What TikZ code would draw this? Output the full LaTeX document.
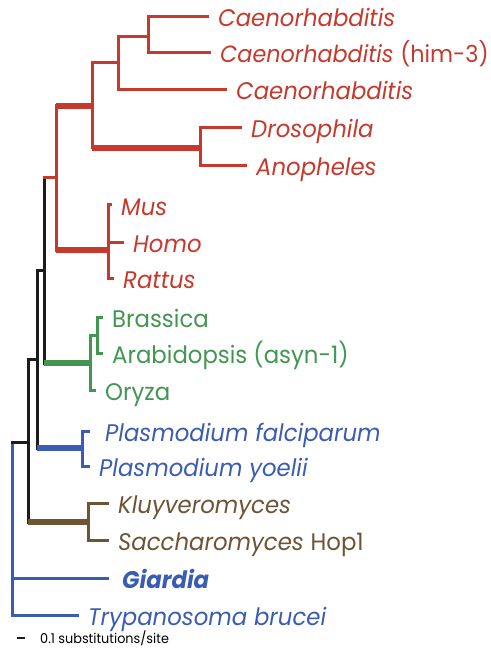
\documentclass[tikz,border=0pt]{standalone}
\usepackage{fontspec}
\usepackage{xcolor}
\usepackage{tikz}
\usetikzlibrary{positioning}
\setmainfont{Poppins}[FakeStretch=0.95]

\definecolor{cladered}{RGB}{198,58,46}
\definecolor{cladegreen}{RGB}{66,150,82}
\definecolor{cladeblue}{RGB}{58,92,180}
\definecolor{cladebrown}{RGB}{108,84,52}
\definecolor{trunkblack}{RGB}{28,28,28}

\newcommand{\leaffont}{\fontsize{24}{28}\selectfont}

\begin{document}
\begin{tikzpicture}[x=1pt, y=-1pt,
    branch/.style={line width=3pt, line cap=rect},
    heavy/.style={line width=6.5pt},
    leaf/.style={anchor=west, inner xsep=11pt, inner ysep=0pt,
        text height=22pt, text depth=2pt, font=\leaffont\itshape}]
    \useasboundingbox (0,0) rectangle (490,652);

    % --- internal nodes ---
    \coordinate (root)    at (12,529);
    \coordinate (inner28) at (28,442);
    \coordinate (inner37) at (37,359);
    \coordinate (inner44) at (44,270);
    \coordinate (metazoa) at (56,178);
    \coordinate (r92)     at (92,106);
    \coordinate (r118)    at (118,63);
    \coordinate (r148)    at (148,37);
    \coordinate (insect)  at (200,148);
    \coordinate (mammal)  at (108,250);
    \coordinate (plant)   at (90,363);
    \coordinate (brass)   at (97,335);
    \coordinate (plasmo)  at (82,448);
    \coordinate (yeast)   at (88,522);

    % --- leaves ---
    \node[leaf, text=cladered] (caenA)  at (207,17)  {Caenorhabditis};
    \node[leaf, text=cladered, inner xsep=0pt, font=\fontsize{23.5}{28}\selectfont\itshape] (caenB) at (220,53) {Caenorhabditis \upshape(him-3)};
    \node[leaf, text=cladered] (caenC)  at (225,90)  {Caenorhabditis};
    \node[leaf, text=cladered] (dros)   at (240,128) {Drosophila};
    \node[leaf, text=cladered] (anoph)  at (245,166) {Anopheles};
    \node[leaf, text=cladered] (mus)    at (110,205) {Mus};
    \node[leaf, text=cladered] (homo)   at (122,242) {Homo};
    \node[leaf, text=cladered] (rattus) at (112,278) {Rattus};
    \node[leaf, text=cladegreen, font=\leaffont] (brassica) at (101,317) {Brassica};
    \node[leaf, text=cladegreen, font=\leaffont] (arabid)   at (101,353) {Arabidopsis (asyn-1)};
    \node[leaf, text=cladegreen, font=\leaffont] (oryza)    at (94,390)  {Oryza};
    \node[leaf, text=cladeblue, inner xsep=17pt] (pfalc) at (88,431) {Plasmodium falciparum};
    \node[leaf, text=cladeblue] (pyoel)  at (88,466)  {Plasmodium yoelii};
    \node[leaf, text=cladebrown] (kluy)  at (107,503) {Kluyveromyces};
    \node[leaf, text=cladebrown] (sacch) at (107,540) {Saccharomyces \upshape Hop1};
    \node[leaf, text=cladeblue, inner xsep=15pt, font=\leaffont\bfseries\itshape] (giardia) at (107,578) {Giardia};
    \node[leaf, text=cladeblue] (tryp)   at (77,615)  {Trypanosoma brucei};

    % --- verticals ---
    \draw[branch, cladeblue] (root |- inner28) -- (root |- tryp);
    \foreach \n/\a/\b in {inner28/inner37/yeast, inner37/inner44/plasmo, inner44/metazoa/plant}
        \draw[branch, trunkblack] (\n |- \a) -- (\n |- \b);
    \foreach \n/\a/\b in {metazoa/r92/mammal, r92/r118/insect, r118/r148/caenC, r148/caenA/caenB,
                          insect/dros/anoph, mammal/mus/rattus}
        \draw[branch, cladered] (\n |- \a) -- (\n |- \b);
    \foreach \n/\a/\b in {plant/brass/oryza, brass/brassica/arabid}
        \draw[branch, cladegreen] (\n |- \a) -- (\n |- \b);
    \draw[branch, cladeblue] (plasmo |- pfalc) -- (plasmo |- pyoel);
    \draw[branch, cladebrown] (yeast |- kluy) -- (yeast |- sacch);

    % --- branches ---
    \draw[branch, trunkblack] (root |- inner28) -- (inner28);
    \foreach \p/\c in {inner28/inner37, inner37/inner44}
        \draw[branch, trunkblack] (\p |- \c) -- (\c);
    \draw[branch, cladered] (inner44 |- metazoa) -- (metazoa);
    \foreach \p/\c in {r92/r118, r118/r148, r118/caenC, r148/caenA,
                       insect/dros, insect/anoph, mammal/mus, mammal/homo, mammal/rattus}
        \draw[branch, cladered] (\p |- \c) -- (\c);
    \draw[branch, cladered, shorten >=11pt] (r148 |- caenB) -- (caenB);
    \foreach \p/\c in {plant/brass, plant/oryza, brass/brassica, brass/arabid}
        \draw[branch, cladegreen] (\p |- \c) -- (\c);
    \foreach \p/\c in {plasmo/pfalc, plasmo/pyoel, root/giardia, root/tryp}
        \draw[branch, cladeblue] (\p |- \c) -- (\c);
    \foreach \p/\c in {yeast/kluy, yeast/sacch}
        \draw[branch, cladebrown] (\p |- \c) -- (\c);

    % heavy stems
    \draw[heavy, cladered] (metazoa |- r92) -- (r92);
    \draw[heavy, cladered] (metazoa |- mammal) -- (mammal);
    \draw[heavy, cladered] (r92 |- insect) -- (insect);
    \draw[heavy, cladegreen] (inner44 |- plant) -- (plant);
    \draw[heavy, cladeblue] (inner37 |- plasmo) -- (plasmo);
    \draw[heavy, cladebrown] (inner28 |- yeast) -- (yeast);

    % --- scale bar ---
    \coordinate (barA) at (17,638);
    \coordinate (barB) at (25,638);
    \draw[line width=1.8pt, trunkblack] (barA) -- (barB);
    \node[right=15pt of barB, inner sep=0pt, font=\fontsize{13.5}{16}\selectfont] (barlabel) {0.1 substitutions/site};
\end{tikzpicture}
\end{document}
